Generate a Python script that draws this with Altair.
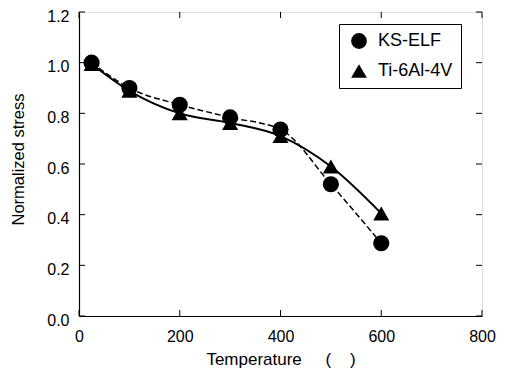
import altair as alt
import pandas as pd

# Data
temps = [25, 100, 200, 300, 400, 500, 600]
ks_elf = [1.0, 0.90, 0.834, 0.784, 0.736, 0.52, 0.287]
ti64 = [0.995, 0.889, 0.80, 0.762, 0.71, 0.59, 0.405]
series_names = ["KS-ELF", "Ti-6Al-4V"]
x_ticks = [0, 200, 400, 600, 800]
y_ticks = [0.0, 0.2, 0.4, 0.6, 0.8, 1.0, 1.2]

rows = []
for t, v in zip(temps, ks_elf):
    rows.append({"temp": t, "stress": v, "series": series_names[0]})
for t, v in zip(temps, ti64):
    rows.append({"temp": t, "stress": v, "series": series_names[1]})
df = pd.DataFrame(rows)
xt = pd.DataFrame({"v": x_ticks})
yt = pd.DataFrame({"v": y_ticks})

W, H = 403, 304
TK = 6
FONT = "Liberation Sans"
NB = "\u00a0"

xs = alt.Scale(domain=[0, 800], nice=False)
ys = alt.Scale(domain=[0, 1.2], nice=False)

base = alt.Chart(df)

main_x = alt.Axis(orient="bottom", values=x_ticks, format="d", ticks=False, tickSize=0,
                  domain=True, domainColor="black", domainWidth=1.2, grid=False,
                  labelPadding=12, labelFontSize=16, labelFlush=False,
                  labelColor="black", labelFont=FONT,
                  title="Temperature" + NB * 5 + "(" + NB * 4 + ")",
                  titleFontSize=17, titleFontWeight="normal",
                  titleColor="black", titleFont=FONT, titleY=43, titleBaseline="middle")
main_y = alt.Axis(orient="left", values=y_ticks, format=".1f", ticks=False, tickSize=0,
                  domain=True, domainColor="black", domainWidth=1.2, grid=False,
                  labelPadding=10, labelOffset=4, labelFontSize=16, labelFlush=False,
                  labelColor="black", labelFont=FONT,
                  title="Normalized stress", titleFontSize=16.5, titleFontWeight="normal",
                  titleColor="black", titleFont=FONT, titleX=-61, titleY=147,
                  titleBaseline="middle", titleAlign="center")

X = alt.X("temp:Q", scale=xs, axis=main_x)
Y = alt.Y("stress:Q", scale=ys, axis=main_y)

line_ks = base.transform_filter(alt.datum.series == series_names[0]).mark_line(
    color="black", strokeWidth=1.5, strokeDash=[6, 3], interpolate="monotone"
).encode(x=X, y=Y)

line_ti = base.transform_filter(alt.datum.series == series_names[1]).mark_line(
    color="black", strokeWidth=2, interpolate="monotone"
).encode(x=X, y=Y)

points = base.mark_point(filled=True, color="black", size=260, opacity=1).encode(
    x=X, y=Y,
    shape=alt.Shape("series:N",
                    scale=alt.Scale(domain=series_names, range=["circle", "triangle-up"]),
                    legend=alt.Legend(orient="none", legendX=260, legendY=12, title=None,
                                      strokeColor="black", fillColor="white", padding=8,
                                      labelFontSize=18, labelFont=FONT, labelColor="black",
                                      symbolSize=250, symbolFillColor="black",
                                      symbolStrokeColor="black", symbolStrokeWidth=0,
                                      symbolOffset=3, rowPadding=12, labelOffset=10)),
)

tick_kw = dict(color="black", strokeWidth=1)
XT = alt.X("v:Q", scale=xs, axis=main_x)
YT = alt.Y("v:Q", scale=ys, axis=main_y)
xt_bottom = alt.Chart(xt).mark_rule(**tick_kw).encode(x=XT, y=alt.value(H), y2=alt.value(H - TK))
xt_top = alt.Chart(xt).mark_rule(**tick_kw).encode(x=XT, y=alt.value(0), y2=alt.value(TK))
yt_left = alt.Chart(yt).mark_rule(**tick_kw).encode(y=YT, x=alt.value(0), x2=alt.value(TK))
yt_right = alt.Chart(yt).mark_rule(**tick_kw).encode(y=YT, x=alt.value(W), x2=alt.value(W - TK))

chart = alt.layer(line_ks, line_ti, points, xt_bottom, xt_top, yt_left, yt_right).properties(
    width=W, height=H,
    autosize=alt.AutoSizeParams(type="none"),
    padding={"left": 71, "top": 4, "right": 15, "bottom": 52},
).configure_view(
    stroke="black", strokeWidth=1.2
).configure(
    font=FONT, background="white"
)

chart.save("out.html", embed_options={"renderer": "svg", "actions": False})
